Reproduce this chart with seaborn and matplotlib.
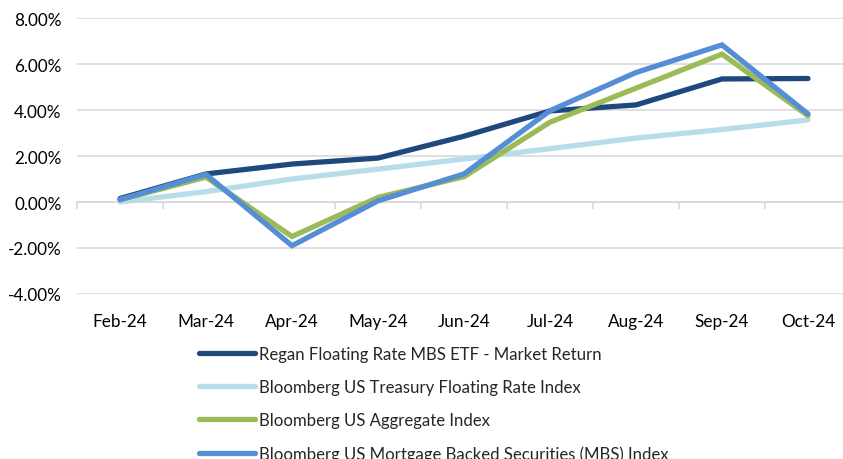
import matplotlib
matplotlib.use("Agg")
import matplotlib.pyplot as plt
import matplotlib.ticker as mticker
import seaborn as sns
import pandas as pd

months = ["Feb-24", "Mar-24", "Apr-24", "May-24", "Jun-24", "Jul-24", "Aug-24", "Sep-24", "Oct-24"]
regan = [0.15, 1.22, 1.65, 1.91, 2.86, 3.96, 4.22, 5.35, 5.37]
treasury = [0.0, 0.45, 1.0, 1.43, 1.87, 2.32, 2.78, 3.15, 3.57]
aggregate = [0.1, 1.08, -1.5, 0.2, 1.1, 3.47, 4.95, 6.43, 3.75]
mbs = [0.1, 1.2, -1.9, 0.05, 1.22, 3.97, 5.63, 6.83, 3.83]

series_names = [
    "Regan Floating Rate MBS ETF - Market Return",
    "Bloomberg US Treasury Floating Rate Index",
    "Bloomberg US Aggregate Index",
    "Bloomberg US Mortgage Backed Securities (MBS) Index",
]
colors = ["#1F497D", "#B7DDE8", "#9BBB59", "#558ED5"]

rows = []
for name, vals in zip(series_names, [regan, treasury, aggregate, mbs]):
    for i, (m, v) in enumerate(zip(months, vals)):
        rows.append({"idx": i, "month": m, "value": v, "series": name})
df = pd.DataFrame(rows)

sns.set_style("white")
plt.rcParams["font.family"] = ["Lato", "DejaVu Sans"]

fig = plt.figure(figsize=(8.43, 4.60), dpi=100)
W, H = 843, 460
left, right, top, bottom = 77, 851, 19, 295
ax = fig.add_axes([left / W, (H - bottom) / H, (right - left) / W, (bottom - top) / H])

sns.lineplot(data=df, x="idx", y="value", hue="series", palette=colors,
             hue_order=series_names, linewidth=3.8, ax=ax, legend=False,
             solid_capstyle="round", solid_joinstyle="miter")

ax.set_xlim(-0.5, len(months) - 0.5)
ax.set_ylim(-4, 8)
ax.set_yticks([-4, -2, 0, 2, 4, 6, 8])
ax.yaxis.set_major_formatter(mticker.FuncFormatter(lambda v, p: f"{v:.2f}%"))
ax.grid(axis="y", color="#D9D9D9", linewidth=1.2)
ax.set_axisbelow(True)
for s in ax.spines.values():
    s.set_visible(False)
ax.set_xticks(range(len(months)))
ax.set_xticklabels(months)
ax.tick_params(axis="x", length=0, pad=14, labelsize=12.3, colors="#000000")
ax.tick_params(axis="y", length=0, pad=11, labelsize=12.3, colors="#000000")
ax.set_xlabel("")
ax.set_ylabel("")

# zero axis line with boundary tick marks
ax0 = ax.secondary_xaxis(4 / 12)
ax0.set_xticks([i - 0.5 for i in range(len(months) + 1)])
ax0.set_xticklabels([])
ax0.tick_params(axis="x", length=5, width=1.2, color="#D9D9D9", direction="out")
ax0.spines["bottom"].set_color("#D9D9D9")
ax0.spines["bottom"].set_linewidth(1.2)
for k in ["top", "left", "right"]:
    ax0.spines[k].set_visible(False)

handles = [plt.Line2D([0], [0], color=c, linewidth=3.8, solid_capstyle="round") for c in colors]
fig.legend(handles, series_names, loc="upper left", bbox_to_anchor=(199 / W, 1 - 347 / H),
           frameon=False, fontsize=12.1, handlelength=3.35, handletextpad=0.2,
           labelspacing=1.02, borderaxespad=0, borderpad=0)

fig.savefig("out.png", dpi=100)
